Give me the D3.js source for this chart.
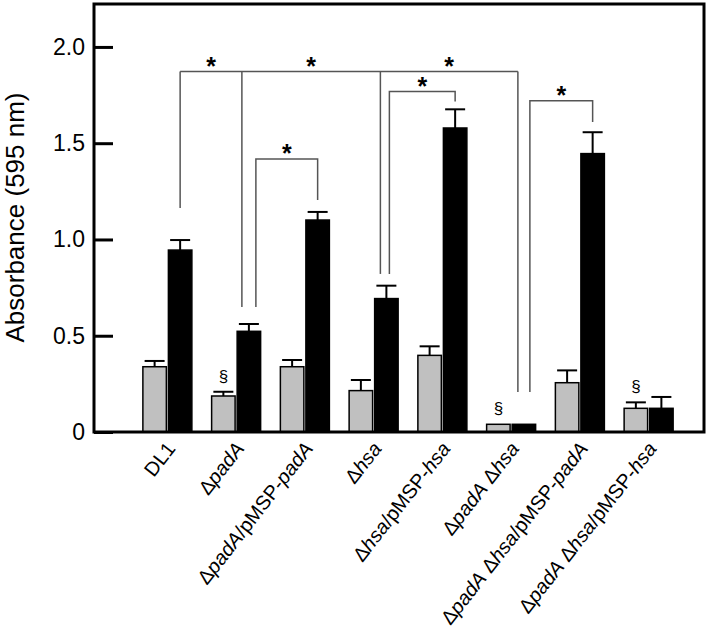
<!DOCTYPE html>
<html>
<head>
<meta charset="utf-8">
<script src="https://cdn.jsdelivr.net/npm/d3@7/dist/d3.min.js"></script>
<style>
  html, body { margin: 0; padding: 0; background: #fff; }
  svg { display: block; font-family: "Liberation Sans", Arial, sans-serif; }
</style>
</head>
<body>
<svg id="chart" width="709" height="638"></svg>
<script>
// ---------- data ----------
const categories = [
  "DL1",
  "Δ<i>padA</i>",
  "Δ<i>padA</i>/pMSP-<i>padA</i>",
  "Δ<i>hsa</i>",
  "Δ<i>hsa</i>/pMSP-<i>hsa</i>",
  "Δ<i>padA</i> Δ<i>hsa</i>",
  "Δ<i>padA</i> Δ<i>hsa</i>/pMSP-<i>padA</i>",
  "Δ<i>padA</i> Δ<i>hsa</i>/pMSP-<i>hsa</i>"
];
const seriesNames = ["gray", "black"];
const grayValues  = [0.339, 0.187, 0.339, 0.215, 0.398, 0.040, 0.256, 0.123];
const grayErrors  = [0.030, 0.022, 0.035, 0.055, 0.047, 0.000, 0.064, 0.031];
const blackValues = [0.945, 0.523, 1.101, 0.693, 1.579, 0.040, 1.446, 0.123];
const blackErrors = [0.052, 0.038, 0.042, 0.067, 0.097, 0.000, 0.111, 0.059];
const sectionMarks = [1, 5, 7];          // § above gray bar of these categories
const yTicks = [0, 0.5, 1.0, 1.5, 2.0];
const yTickLabels = ["0", "0.5", "1.0", "1.5", "2.0"];
const yLabel = "Absorbance (595 nm)";
// bracket joining several groups at one level: legs are [category, offset, bottom value]
const topBracketLevel = 1.872;
const topBracketLegs = [[0, 0, 1.164], [1, -7, 0.649], [3, -6, 0.821], [5, -6, 0.208]];
// pair brackets: [fromCat, fromOffset, fromBottom, toCat, toOffset, toBottom, level]
const pairBrackets = [
  [1, 7, 0.649, 2, 0, 1.205, 1.418],
  [3, 3, 0.821, 4, 0, 1.716, 1.768],
  [5, 6, 0.208, 6, 0, 1.610, 1.721]
];

// ---------- layout ----------
const svg = d3.select("#chart");
const frame = { left: 94, right: 704, top: 4, bottom: 432 };

const y = d3.scaleLinear().domain([0, 2.223]).range([frame.bottom, frame.top]);
const x = d3.scaleBand().domain(d3.range(categories.length)).range([133, 683]).padding(0);
const xs = d3.scaleBand().domain(seriesNames)
  .range([x.bandwidth() / 2 - 24.5, x.bandwidth() / 2 + 24.5]).paddingInner(0.08);

const center = i => x(i) + x.bandwidth() / 2;
const barCenter = (i, s) => x(i) + xs(s) + xs.bandwidth() / 2;

const rows = categories.map((c, i) => ({
  i,
  values: [
    { s: "gray", v: grayValues[i], e: grayErrors[i] },
    { s: "black", v: blackValues[i], e: blackErrors[i] }
  ]
}));

// ---------- bars ----------
const g = svg.append("g");
const groups = g.selectAll("g.grp").data(rows).enter().append("g").attr("class", "grp");

// error bars (upward only)
groups.selectAll("g.err").data(d => d.values.map(v => ({ ...v, i: d.i })))
  .enter().append("g").attr("class", "err")
  .each(function (d) {
    if (d.e <= 0) return;
    const cx = barCenter(d.i, d.s);
    const sel = d3.select(this);
    sel.append("line").attr("x1", cx).attr("x2", cx)
      .attr("y1", y(d.v)).attr("y2", y(d.v + d.e))
      .attr("stroke", "#000").attr("stroke-width", 2);
    sel.append("line").attr("x1", cx - 10).attr("x2", cx + 10)
      .attr("y1", y(d.v + d.e)).attr("y2", y(d.v + d.e))
      .attr("stroke", "#000").attr("stroke-width", 2);
  });

groups.selectAll("rect").data(d => d.values.map(v => ({ ...v, i: d.i })))
  .enter().append("rect")
  .attr("x", d => x(d.i) + xs(d.s))
  .attr("width", xs.bandwidth())
  .attr("y", d => y(d.v))
  .attr("height", d => y(0) - y(d.v))
  .attr("fill", d => d.s === "gray" ? "#c0c0c0" : "#000")
  .attr("stroke", "#000")
  .attr("stroke-width", 1.5);

// § marks
g.selectAll("text.sect").data(sectionMarks).enter().append("text")
  .attr("class", "sect")
  .attr("x", i => barCenter(i, "gray"))
  .attr("y", i => y(grayValues[i] + grayErrors[i]) - 10)
  .attr("text-anchor", "middle")
  .attr("font-size", 17)
  .text("§");

// ---------- brackets ----------
const bg = svg.append("g").attr("stroke", "#555").attr("stroke-width", 1.5).attr("fill", "none");
const legX = l => barCenter(l[0], "black") + l[1];
bg.append("line")
  .attr("x1", legX(topBracketLegs[0])).attr("x2", legX(topBracketLegs[topBracketLegs.length - 1]))
  .attr("y1", y(topBracketLevel)).attr("y2", y(topBracketLevel));
bg.selectAll("line.leg").data(topBracketLegs).enter().append("line")
  .attr("class", "leg")
  .attr("x1", legX).attr("x2", legX)
  .attr("y1", y(topBracketLevel)).attr("y2", l => y(l[2]));

const starG = svg.append("g");
const star = (sx, lvl) => starG.append("text")
  .attr("x", sx).attr("y", y(lvl) + 3)
  .attr("text-anchor", "middle").attr("font-size", 25).attr("font-weight", "bold")
  .text("*");
for (let k = 0; k < topBracketLegs.length - 1; k++) {
  star((legX(topBracketLegs[k]) + legX(topBracketLegs[k + 1])) / 2, topBracketLevel);
}

pairBrackets.forEach(b => {
  const x1 = barCenter(b[0], "black") + b[1];
  const x2 = barCenter(b[3], "black") + b[4];
  const path = d3.path();
  path.moveTo(x1, y(b[2]));
  path.lineTo(x1, y(b[6]));
  path.lineTo(x2, y(b[6]));
  path.lineTo(x2, y(b[5]));
  bg.append("path").attr("d", path.toString());
  star((x1 + x2) / 2, b[6]);
});

// ---------- axes ----------
const yAxis = d3.axisLeft(y).tickValues(yTicks)
  .tickFormat((d, i) => yTickLabels[i])
  .tickSizeInner(-19).tickSizeOuter(0).tickPadding(9);
const ya = svg.append("g").attr("transform", `translate(${frame.left},0)`).call(yAxis);
ya.select(".domain").remove();
ya.selectAll(".tick line").attr("stroke", "#000").attr("stroke-width", 3);
ya.selectAll(".tick text").attr("font-size", 23).attr("fill", "#000")
  .attr("font-family", "'Liberation Sans', Arial, sans-serif");

svg.append("rect")
  .attr("x", frame.left).attr("y", frame.top)
  .attr("width", frame.right - frame.left).attr("height", frame.bottom - frame.top)
  .attr("fill", "none").attr("stroke", "#000").attr("stroke-width", 3);

svg.append("text")
  .attr("transform", `translate(24,${(90 + 345) / 2}) rotate(-90)`)
  .attr("text-anchor", "middle").attr("font-size", 26)
  .text(yLabel);

// x labels
const xl = svg.append("g");
categories.forEach((lab, i) => {
  const t = xl.append("text")
    .attr("transform", `translate(${center(i) + 9},${frame.bottom + 17}) rotate(-52)`)
    .attr("text-anchor", "end").attr("font-size", 20);
  lab.split(/(<i>.*?<\/i>)/).filter(s => s.length).forEach(seg => {
    const it = seg.startsWith("<i>");
    t.append("tspan").attr("font-style", it ? "italic" : "normal")
      .text(it ? seg.slice(3, -4) : seg);
  });
});
</script>
</body>
</html>
